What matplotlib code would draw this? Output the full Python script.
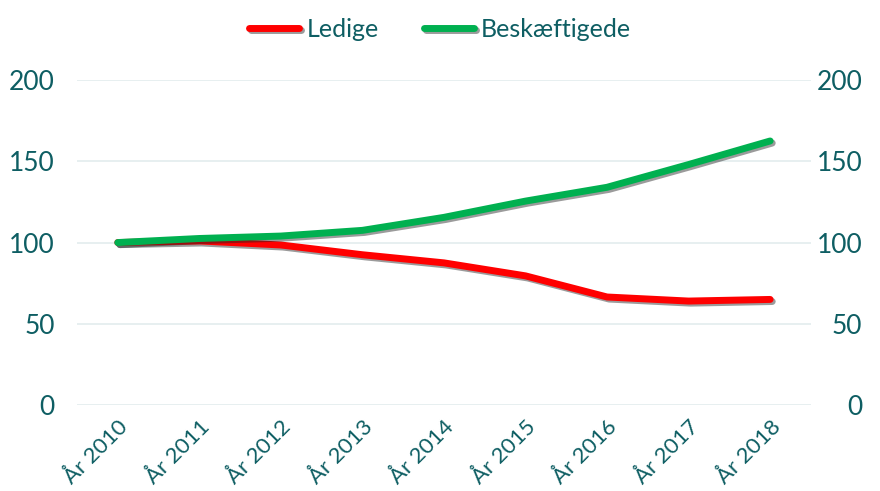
import matplotlib.pyplot as plt
import matplotlib.patheffects as pe

years = ["År 2010", "År 2011", "År 2012", "År 2013", "År 2014",
         "År 2015", "År 2016", "År 2017", "År 2018"]
ledige = [100, 101, 98.5, 92.5, 87.5, 79.5, 66.5, 64, 65]
beskaeftigede = [100, 102.5, 104, 107.5, 115.5, 125.5, 134, 148, 162.5]

txt = "#0E5E63"
plt.rcParams["font.family"] = ["Lato", "DejaVu Sans"]

fig = plt.figure(figsize=(8.8, 4.91), dpi=100)
ax = fig.add_axes([0.0875, 0.175, 0.834, 0.662])

shadow = [pe.SimpleLineShadow(offset=(1.5, -1.5), alpha=0.45, shadow_color="#222222"), pe.Normal()]
x = range(len(years))
ax.plot(x, ledige, color="#FF0000", lw=5, solid_capstyle="round",
        label="Ledige", path_effects=shadow, zorder=3)
ax.plot(x, beskaeftigede, color="#00B050", lw=5, solid_capstyle="round",
        label="Beskæftigede", path_effects=shadow, zorder=4)

ax.set_xlim(-0.5, len(years) - 0.5)
ax.set_ylim(0, 200)
ax.set_yticks([0, 50, 100, 150, 200])
ax.grid(axis="y", color="#E3ECEE", lw=1.2)
ax.set_axisbelow(True)
for s in ax.spines.values():
    s.set_visible(False)
ax.tick_params(length=0)
ax.tick_params(axis="y", labelsize=19, labelcolor=txt, pad=16)
ax.set_xticks(list(x))
ax.set_xticklabels(years, rotation=45, ha="right", rotation_mode="anchor",
                   fontsize=16, color=txt)
ax.tick_params(axis="x", pad=8)

ax2 = ax.twinx()
ax2.set_ylim(0, 200)
ax2.set_yticks([0, 50, 100, 150, 200])
for s in ax2.spines.values():
    s.set_visible(False)
ax2.tick_params(length=0, labelsize=19, labelcolor=txt, pad=37)
for lab in ax2.get_yticklabels():
    lab.set_horizontalalignment("right")

leg = fig.legend(loc="upper center", bbox_to_anchor=(0.5, 1.01), ncol=2, frameon=False,
                 fontsize=18, handlelength=2.0, handletextpad=0.3, columnspacing=1.8)
for t in leg.get_texts():
    t.set_color(txt)

fig.savefig("out.png", dpi=100)
